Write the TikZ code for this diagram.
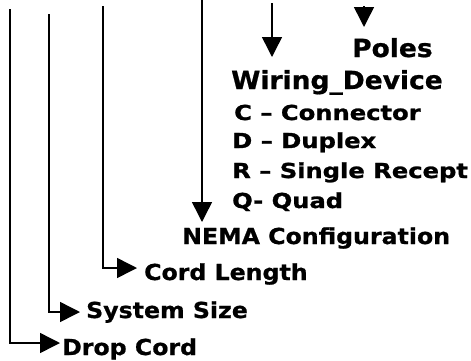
\documentclass[tikz,border=0pt]{standalone}
\usepackage{fontspec}
\setmainfont{DejaVu Sans}
\newfontfamily\bigfam{DejaVu Sans}[FakeStretch=1.06,FakeBold=0.8]
\newfontfamily\midfam{DejaVu Sans}[FakeStretch=1.075,FakeBold=0.8]
\newfontfamily\listfam{DejaVu Sans}[FakeStretch=1.175,FakeBold=1.2]
\usetikzlibrary{arrows.meta,positioning}
\tikzset{
  bigtxt/.style  ={font=\bigfam\bfseries\fontsize{25}{27}\selectfont,inner sep=0pt,anchor=base west},
  midtxt/.style  ={font=\midfam\bfseries\fontsize{22}{24}\selectfont,inner sep=0pt,anchor=base west},
  listtxt/.style ={font=\listfam\bfseries\fontsize{20.6}{22}\selectfont,inner sep=0pt,anchor=base west},
  lead/.style    ={-{Triangle[length=20pt,width=20pt]},line width=1.5pt,draw=black}
}

\begin{document}
\begin{tikzpicture}[x=1pt,y=-1pt]
  \useasboundingbox (0,0) rectangle (471,360);
  % labels
  \node[bigtxt] (poles)  at (352,57)  {Poles};
  \node[bigtxt] (wiring) at (231,89)  {Wiring\_Device};
  \node[listtxt] (conn)   at (234,120) {C – Connector};
  \node[listtxt] (duplex) at (232,148) {D – Duplex};
  \node[listtxt] (single) at (232,178) {R – Single Recept};
  \node[listtxt] (quad)   at (232,208) {Q- Quad};
  \node[midtxt] (nema)   at (182,244) {NEMA Configuration};
  \node[midtxt] (cord)   at (144,280) {Cord Length};
  \node[midtxt] (size)   at (86,318)  {System Size};
  \node[midtxt] (drop)   at (62,355)  {Drop Cord};
  % leader tops
  \coordinate (dropTop)   at (10,9);
  \coordinate (sizeTop)   at (49,14);
  \coordinate (cordTop)   at (103,6);
  \coordinate (nemaTop)   at (202,0);
  \coordinate (wiringTop) at (272,3);
  \coordinate (polesTop)  at (364,6);
  % leaders
  \draw[lead] (dropTop) |- ([xshift=-2pt,yshift=12pt]drop.base west);
  \draw[lead] (sizeTop) |- ([xshift=-6pt,yshift=6pt]size.base west);
  \draw[lead] (cordTop) |- ([xshift=-7pt,yshift=12pt]cord.base west);
  \draw[lead] (nemaTop) -- ([yshift=22pt]nemaTop |- nema.base);
  \draw[lead] (wiringTop) -- ([yshift=32pt]wiringTop |- wiring.base);
  \draw[lead] (polesTop) -- ([yshift=30pt]polesTop |- poles.base);
\end{tikzpicture}
\end{document}
